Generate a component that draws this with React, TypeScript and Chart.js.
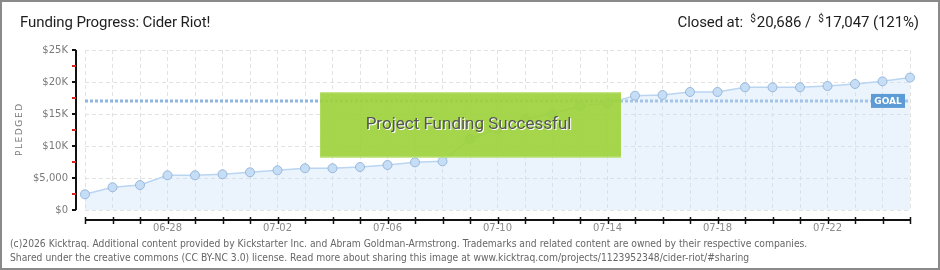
import React, { useEffect, useRef } from "react";
import { Chart, registerables } from "chart.js";

Chart.register(...registerables);

const dayLabels = [
  "06-25", "06-26", "06-27", "06-28", "06-29", "06-30", "07-01", "07-02",
  "07-03", "07-04", "07-05", "07-06", "07-07", "07-08", "07-09", "07-10",
  "07-11", "07-12", "07-13", "07-14", "07-15", "07-16", "07-17", "07-18",
  "07-19", "07-20", "07-21", "07-22", "07-23", "07-24", "07-25",
];

const pledged = [
  2450, 3550, 3900, 5420, 5420, 5580, 5890, 6200,
  6520, 6520, 6720, 7030, 7450, 7600, 11140, 12700,
  14170, 15050, 16250, 16670, 17860, 17970, 18440, 18440,
  19170, 19170, 19170, 19380, 19690, 20100, 20686,
];

const xTickLabels = ["06-28", "07-02", "07-06", "07-10", "07-14", "07-18", "07-22"];
const yTickValues = [0, 5000, 10000, 15000, 20000, 25000];
const yTickLabels = ["$0", "$5,000", "$10K", "$15K", "$20K", "$25K"];
const goal = 17047;

const titleText = "Funding Progress: Cider Riot!";
const closedLabel = "Closed at:";
const closedValue = "20,686";
const goalValue = "17,047";
const percentText = "(121%)";
const successText = "Project Funding Successful";
const footer1 =
  "(c)2026 Kicktraq. Additional content provided by Kickstarter Inc. and Abram Goldman-Armstrong. Trademarks and related content are owned by their respective companies.";
const footer2 =
  "Shared under the creative commons (CC BY-NC 3.0) license. Read more about sharing this image at www.kicktraq.com/projects/1123952348/cider-riot/#sharing";

const overlayPlugin = {
  id: "kicktraqOverlay",
  beforeDatasetsDraw(chart: any) {
    const { ctx, chartArea, scales } = chart;
    const y = scales.y.getPixelForValue(goal);
    ctx.save();
    ctx.strokeStyle = "#8fb6e2";
    ctx.lineWidth = 3;
    ctx.setLineDash([3, 2]);
    ctx.beginPath();
    ctx.moveTo(chartArea.left, y);
    ctx.lineTo(chartArea.right, y);
    ctx.stroke();
    ctx.restore();
  },
  afterDatasetsDraw(chart: any) {
    const { ctx, chartArea, scales } = chart;
    const w = chartArea.right - chartArea.left;
    const h = chartArea.bottom - chartArea.top;
    // GOAL label
    const gy = scales.y.getPixelForValue(goal);
    ctx.save();
    const gw = 34, gh = 14;
    const gx = chartArea.right - 5 - gw;
    ctx.fillStyle = "#5c9bd6";
    ctx.fillRect(gx, gy - gh / 2, gw, gh);
    ctx.fillStyle = "#ffffff";
    ctx.font = "bold 9px 'DejaVu Sans'";
    ctx.textAlign = "center";
    ctx.textBaseline = "middle";
    ctx.fillText("GOAL", gx + gw / 2, gy + 0.5);
    ctx.restore();

    // Success box
    const bx = chartArea.left + w * 0.285;
    const bx2 = chartArea.left + w * 0.6497;
    const by = chartArea.top + h * 0.264;
    const by2 = chartArea.top + h * 0.672;
    ctx.save();
    ctx.fillStyle = "rgba(160, 212, 62, 0.93)";
    ctx.fillRect(bx, by, bx2 - bx, by2 - by);
    ctx.beginPath();
    ctx.rect(bx, by, bx2 - bx, by2 - by);
    ctx.clip();
    ctx.strokeStyle = "rgba(120, 170, 40, 0.12)";
    ctx.lineWidth = 1;
    for (let s = bx - (by2 - by); s < bx2; s += 3) {
      ctx.beginPath();
      ctx.moveTo(s, by2);
      ctx.lineTo(s + (by2 - by), by);
      ctx.stroke();
    }
    ctx.restore();
    ctx.save();
    ctx.fillStyle = "#c4e68a";
    ctx.fillRect(bx, by, bx2 - bx, 1);
    ctx.fillRect(bx, by2 - 1, bx2 - bx, 1);
    ctx.font = "17px Roboto";
    ctx.textAlign = "center";
    ctx.textBaseline = "middle";
    ctx.fillStyle = "#ffffff";
    const cx = (bx + bx2) / 2 - 2;
    const cy = (by + by2) / 2;
    ctx.fillText(successText, cx + 1, cy + 1);
    ctx.fillStyle = "#555555";
    ctx.fillText(successText, cx, cy);
    ctx.restore();
  },
  afterDraw(chart: any) {
    const { ctx, chartArea, scales } = chart;
    ctx.save();
    const ax = chartArea.left - 9;
    ctx.strokeStyle = "#111";
    ctx.lineWidth = 2;
    ctx.beginPath();
    ctx.moveTo(ax, chartArea.top);
    ctx.lineTo(ax, chartArea.bottom);
    ctx.stroke();
    ctx.lineWidth = 2;
    for (let v = 0; v <= 25000; v += 2500) {
      const y = Math.round(scales.y.getPixelForValue(v));
      ctx.strokeStyle = v % 5000 === 0 ? "#111" : "#e0201a";
      ctx.beginPath();
      ctx.moveTo(ax - 4, y);
      ctx.lineTo(ax, y);
      ctx.stroke();
    }
    const ay = chartArea.bottom + 10;
    ctx.strokeStyle = "#111";
    ctx.lineWidth = 2;
    ctx.beginPath();
    ctx.moveTo(chartArea.left, ay);
    ctx.lineTo(chartArea.right, ay);
    ctx.stroke();
    ctx.lineWidth = 1.5;
    for (let i = 0; i < dayLabels.length; i++) {
      const x = Math.round(scales.x.getPixelForValue(i)) + 0.5;
      ctx.beginPath();
      ctx.moveTo(x, ay - 3);
      ctx.lineTo(x, ay + 4);
      ctx.stroke();
    }
    ctx.translate(20, (chartArea.top + chartArea.bottom) / 2);
    ctx.rotate(-Math.PI / 2);
    ctx.fillStyle = "#7a7a7a";
    ctx.font = "9px 'DejaVu Sans'";
    ctx.textBaseline = "middle";
    const t = "PLEDGED";
    const sp = 1.6;
    let total = 0;
    for (const ch of t) total += ctx.measureText(ch).width + sp;
    total -= sp;
    let px = -total / 2;
    ctx.textAlign = "left";
    for (const ch of t) {
      ctx.fillText(ch, px, 0);
      px += ctx.measureText(ch).width + sp;
    }
    ctx.restore();
  },
};

function ChartCanvas() {
  const ref = useRef<HTMLCanvasElement | null>(null);
  useEffect(() => {
    if (!ref.current) return;
    const chart = new Chart(ref.current, {
      type: "line",
      data: {
        labels: dayLabels,
        datasets: [
          {
            data: pledged,
            borderColor: "#b9d5f2",
            borderWidth: 1.5,
            backgroundColor: "rgba(200, 225, 250, 0.36)",
            fill: "origin",
            tension: 0,
            pointRadius: 4.5,
            pointBackgroundColor: "#c6ddf6",
            pointBorderColor: "#98b7da",
            pointBorderWidth: 1,
          },
        ],
      },
      options: {
        animation: false,
        responsive: false,
        maintainAspectRatio: false,
        layout: { padding: { left: 0, right: 30, top: 50, bottom: 0 } },
        plugins: { legend: { display: false }, tooltip: { enabled: false }, title: { display: false } },
        scales: {
          x: {
            type: "category",
            offset: false,
            afterFit: (s: any) => { s.height = 60; },
            grid: { color: "#e2e2e2", drawTicks: false, lineWidth: 1 },
            border: { display: false, dash: [4, 3] },
            ticks: {
              autoSkip: false,
              maxRotation: 0,
              padding: 12,
              color: "#8a8a8a",
              font: { family: "'DejaVu Sans'", size: 10 },
              callback: (_v: any, i: number) => (xTickLabels.includes(dayLabels[i]) ? dayLabels[i] : ""),
            },
          },
          y: {
            min: 0,
            max: 25000,
            afterFit: (s: any) => { s.width = 85; },
            afterBuildTicks: (s: any) => { s.ticks = yTickValues.map((v) => ({ value: v })); },
            grid: { color: "#e2e2e2", drawTicks: false, lineWidth: 1 },
            border: { display: false, dash: [4, 3] },
            ticks: {
              padding: 17,
              color: "#7a7a7a",
              font: { family: "'DejaVu Sans'", size: 10 },
              callback: (v: any) => {
                const i = yTickValues.indexOf(Number(v));
                return i >= 0 ? yTickLabels[i] : "";
              },
            },
          },
        },
      },
      plugins: [overlayPlugin],
    });
    return () => chart.destroy();
  }, []);
  return <canvas ref={ref} width={940} height={270} style={{ position: "absolute", left: 0, top: 0, width: 940, height: 270 }} />;
}

export default function App() {
  const sup: React.CSSProperties = { fontSize: 10, position: "relative", top: -5, marginRight: 1 };
  return (
    <div style={{ position: "fixed", left: 0, top: 0, width: 940, height: 270, background: "#fff", overflow: "hidden" }}>
      <ChartCanvas />
      <div style={{ position: "absolute", left: 20, top: 13, fontFamily: "Roboto", fontSize: 15, color: "#1e1e1e", letterSpacing: -0.1, whiteSpace: "nowrap" }}>
        {titleText}
      </div>
      <div style={{ position: "absolute", right: 21, top: 13, fontFamily: "Roboto", fontSize: 15, color: "#1e1e1e", letterSpacing: -0.1, whiteSpace: "nowrap" }}>
        {closedLabel}{"\u00a0\u00a0"}<span style={sup}>$</span>{closedValue} /{"\u00a0\u00a0"}<span style={sup}>$</span>{goalValue} {percentText}
      </div>
      <div style={{ position: "absolute", left: 10, top: 237, fontFamily: "'DejaVu Sans'", fontSize: 10, lineHeight: "14px", color: "#666", whiteSpace: "nowrap", transform: "scaleX(0.922)", transformOrigin: "0 0" }}>
        <div>{footer1}</div>
        <div>{footer2}</div>
      </div>
      <div style={{ position: "absolute", left: 0, top: 0, width: 940, height: 270, boxSizing: "border-box", border: "2px solid #8a8a8a", pointerEvents: "none" }} />
    </div>
  );
}
